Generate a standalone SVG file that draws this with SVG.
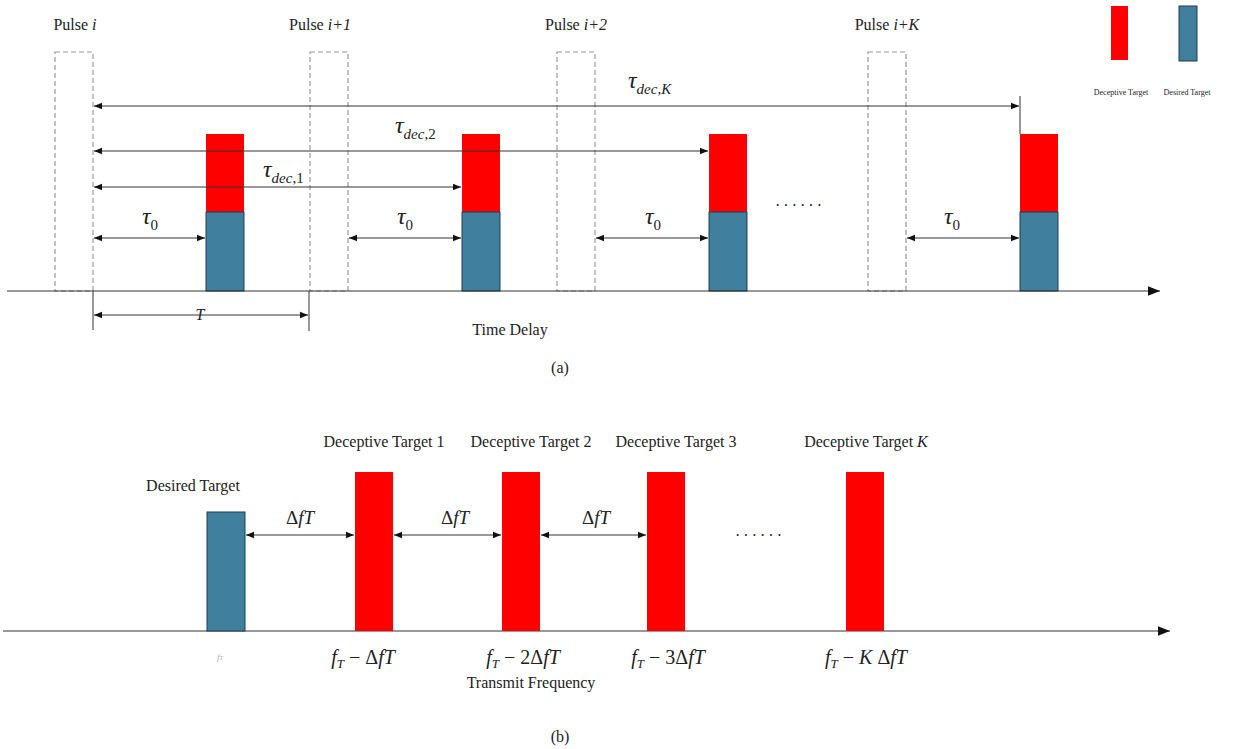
<svg xmlns="http://www.w3.org/2000/svg" width="1242" height="749" viewBox="0 0 1242 749">
<style>
text{font-family:"Liberation Serif",serif;fill:#222}
.t{font-size:16px}
.m{font-size:24px;font-style:italic}
.s{font-size:13px}
.pl{fill:none;stroke:#999;stroke-width:1.2;stroke-dasharray:5,3}
.red{fill:#ff0000}
.blue{fill:#417f9e;stroke:#1f3f50;stroke-width:1}
.ln{stroke:#333;stroke-width:1;fill:none}
.ar{stroke:#333;stroke-width:1;fill:none;marker-start:url(#a);marker-end:url(#a)}
</style>
<defs><marker id="a" viewBox="0 0 10 10" refX="10" refY="5" markerWidth="8" markerHeight="8" orient="auto-start-reverse" markerUnits="userSpaceOnUse"><path d="M0,1L10,5L0,9z" fill="#111"/></marker>
<marker id="b" viewBox="0 0 10 10" refX="10" refY="5" markerWidth="12" markerHeight="12" orient="auto" markerUnits="userSpaceOnUse"><path d="M0,1L10,5L0,9z" fill="#111"/></marker></defs>
<rect width="1242" height="749" fill="#fff"/>
<g id="pulses">
<rect class="pl" x="55" y="52" width="38" height="239"/>
<rect class="pl" x="310" y="52" width="38" height="239"/>
<rect class="pl" x="557" y="52" width="38" height="239"/>
<rect class="pl" x="868" y="52" width="38" height="239"/>
</g>
<g id="targetsA">
<rect class="red" x="206" y="134" width="38" height="78"/><rect class="blue" x="206" y="212" width="38" height="79"/>
<rect class="red" x="462" y="134" width="38" height="78"/><rect class="blue" x="462" y="212" width="38" height="79"/>
<rect class="red" x="709" y="134" width="38" height="78"/><rect class="blue" x="709" y="212" width="38" height="79"/>
<rect class="red" x="1020" y="134" width="38" height="78"/><rect class="blue" x="1020" y="212" width="38" height="79"/>
</g>
<g id="legend">
<rect class="red" x="1111" y="6" width="17" height="54"/>
<rect class="blue" x="1179" y="6" width="18" height="55"/>
<text x="1121" y="95" font-size="8" text-anchor="middle">Deceptive Target</text>
<text x="1187" y="95" font-size="8" text-anchor="middle">Desired Target</text>
</g>
<g id="connectors">
<line x1="7" y1="291" x2="1160" y2="291" class="ln" marker-end="url(#b)"/>
<line x1="93" y1="291" x2="93" y2="330" class="ln"/>
<line x1="309" y1="291" x2="309" y2="331" class="ln"/>
<line x1="1020" y1="96" x2="1020" y2="134" class="ln"/>
<line x1="94" y1="106" x2="1019" y2="106" class="ar"/>
<line x1="94" y1="151" x2="708" y2="151" class="ar"/>
<line x1="94" y1="187" x2="461" y2="187" class="ar"/>
<line x1="94" y1="238" x2="205" y2="238" class="ar"/>
<line x1="349" y1="238" x2="461" y2="238" class="ar"/>
<line x1="596" y1="238" x2="708" y2="238" class="ar"/>
<line x1="907" y1="238" x2="1019" y2="238" class="ar"/>
<line x1="94" y1="315" x2="308" y2="315" class="ar"/>
<line x1="3" y1="631" x2="1170" y2="631" class="ln" marker-end="url(#b)"/>
<line x1="246" y1="535" x2="354" y2="535" class="ar"/>
<line x1="394" y1="535" x2="501" y2="535" class="ar"/>
<line x1="541" y1="535" x2="646" y2="535" class="ar"/>
</g>
<g id="labelsA">
<text class="t" x="75" y="30" text-anchor="middle">Pulse <tspan font-style="italic">i</tspan></text>
<text class="t" x="320" y="30" text-anchor="middle">Pulse <tspan font-style="italic">i+1</tspan></text>
<text class="t" x="576" y="30" text-anchor="middle">Pulse <tspan font-style="italic">i+2</tspan></text>
<text class="t" x="887" y="30" text-anchor="middle">Pulse <tspan font-style="italic">i+K</tspan></text>
<text class="m" x="628" y="88">τ<tspan font-size="15" dy="6">dec</tspan><tspan font-size="15" font-style="normal">,</tspan><tspan font-size="15">K</tspan></text>
<text class="m" x="395" y="133">τ<tspan font-size="15" dy="6">dec</tspan><tspan font-size="15" font-style="normal">,2</tspan></text>
<text class="m" x="263" y="177">τ<tspan font-size="15" dy="6">dec</tspan><tspan font-size="15" font-style="normal">,1</tspan></text>
<text class="m" x="142" y="224">τ<tspan font-size="15" font-style="normal" dy="6">0</tspan></text>
<text class="m" x="397" y="224">τ<tspan font-size="15" font-style="normal" dy="6">0</tspan></text>
<text class="m" x="645" y="224">τ<tspan font-size="15" font-style="normal" dy="6">0</tspan></text>
<text class="m" x="944" y="224">τ<tspan font-size="15" font-style="normal" dy="6">0</tspan></text>
<text class="t" x="800" y="211" text-anchor="middle" letter-spacing="3">······</text>
<text class="t" x="200" y="320" text-anchor="middle" font-style="italic">T</text>
<text class="t" x="510" y="335" text-anchor="middle">Time Delay</text>
<text class="t" x="560" y="373" text-anchor="middle">(a)</text>
</g>
<g id="targetsB">
<rect class="blue" x="207" y="512" width="38" height="119"/>
<rect class="red" x="355" y="472" width="38" height="159"/>
<rect class="red" x="502" y="472" width="38" height="159"/>
<rect class="red" x="647" y="472" width="38" height="159"/>
<rect class="red" x="846" y="472" width="38" height="159"/>
</g>
<g id="labelsB">
<text class="t" x="193" y="491" text-anchor="middle">Desired Target</text>
<text class="t" x="384" y="447" text-anchor="middle">Deceptive Target 1</text>
<text class="t" x="531" y="447" text-anchor="middle">Deceptive Target 2</text>
<text class="t" x="676" y="447" text-anchor="middle">Deceptive Target 3</text>
<text class="t" x="866" y="447" text-anchor="middle">Deceptive Target <tspan font-style="italic">K</tspan></text>
<text x="300" y="524" font-size="19" text-anchor="middle">Δ<tspan font-style="italic">fT</tspan></text>
<text x="455" y="524" font-size="19" text-anchor="middle">Δ<tspan font-style="italic">fT</tspan></text>
<text x="596" y="524" font-size="19" text-anchor="middle">Δ<tspan font-style="italic">fT</tspan></text>
<text class="t" x="760" y="541" text-anchor="middle" letter-spacing="3">······</text>
<text x="217" y="660" font-size="9" fill="#aaa" style="fill:#aaa" font-style="italic">f<tspan font-size="6">T</tspan></text>
<text x="363" y="664" font-size="20" text-anchor="middle"><tspan font-style="italic">f</tspan><tspan font-size="13" font-style="italic" dy="4">T</tspan><tspan dy="-4"> − Δ</tspan><tspan font-style="italic">fT</tspan></text>
<text x="523" y="664" font-size="20" text-anchor="middle"><tspan font-style="italic">f</tspan><tspan font-size="13" font-style="italic" dy="4">T</tspan><tspan dy="-4"> − 2Δ</tspan><tspan font-style="italic">fT</tspan></text>
<text x="668" y="664" font-size="20" text-anchor="middle"><tspan font-style="italic">f</tspan><tspan font-size="13" font-style="italic" dy="4">T</tspan><tspan dy="-4"> − 3Δ</tspan><tspan font-style="italic">fT</tspan></text>
<text x="866" y="664" font-size="20" text-anchor="middle"><tspan font-style="italic">f</tspan><tspan font-size="13" font-style="italic" dy="4">T</tspan><tspan dy="-4"> − </tspan><tspan font-style="italic">K</tspan><tspan> Δ</tspan><tspan font-style="italic">fT</tspan></text>
<text class="t" x="531" y="688" text-anchor="middle">Transmit Frequency</text>
<text class="t" x="560" y="742" text-anchor="middle">(b)</text>
</g>
</svg>
